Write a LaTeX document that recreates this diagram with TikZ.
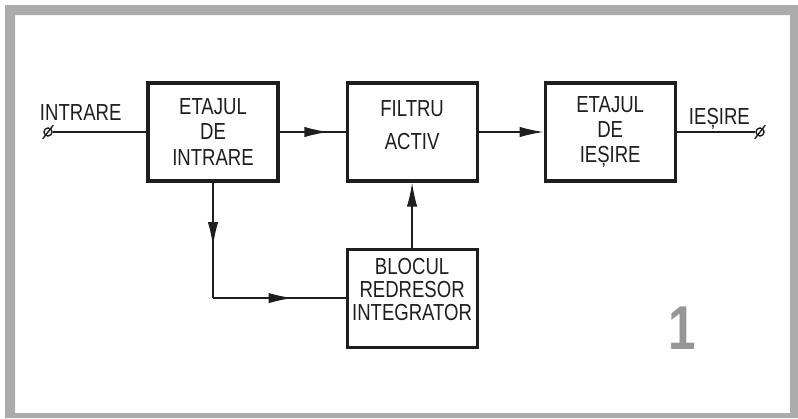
\documentclass[tikz,border=0pt]{standalone}
\usepackage{fontspec}
\setmainfont{Liberation Sans}[FakeStretch=0.8]
\usetikzlibrary{arrows.meta, positioning, decorations.markings}
\definecolor{inkblack}{RGB}{30, 30, 30}
\definecolor{framegray}{RGB}{172, 172, 172}
\definecolor{numbergray}{RGB}{150, 150, 150}
\tikzset{
  >=Latex,
  blockbox/.style={draw=inkblack, line width=2.2pt, minimum width=3.25cm, minimum height=2.45cm, align=center, inner sep=1pt, font=\fontsize{16.5}{18}\selectfont, text=inkblack},
  signal/.style={draw=inkblack, line width=1pt},
  signal_end/.style={signal, -{Latex[length=6mm, width=2.6mm]}},
  signal_mid/.style={signal, postaction={decorate}, decoration={markings, mark=at position #1 with {\arrow{Latex[length=6mm, width=2.6mm]}}}},
  terminal/.style={circle, draw=inkblack, line width=1pt, minimum size=2mm, inner sep=0pt},
  label_text/.style={font=\fontsize{16.5}{18}\selectfont, text=inkblack}
}
\begin{document}
\begin{tikzpicture}
    \useasboundingbox (0,0) rectangle (19.95,-10.45);
    \fill[framegray, even odd rule] (0.125,-0.125) rectangle (19.95,-10.45) (0.375,-0.375) rectangle (19.75,-10.325);
    \node (etin) [blockbox] at (5.325,-3.3) {ETAJUL\\DE\\INTRARE};
    \node (filtru) [blockbox, right=1.65cm of etin] {FILTRU\\[6pt]ACTIV\\[-8pt]};
    \node (etout) [blockbox, right=1.625cm of filtru] {ETAJUL\\DE\\IEȘIRE};
    \node (bloc) [blockbox, below=1.625cm of filtru, font=\fontsize{16.5}{16.5}\selectfont] {BLOCUL\\REDRESOR\\INTEGRATOR\\[-4pt]};
    \node (intr) [terminal] at (1.2,-3.3) {};
    \node (iesire) [terminal] at (19.0,-3.3) {};
    \draw[signal] ([shift={(-0.13,-0.17)}]intr.center) -- ([shift={(0.13,0.17)}]intr.center);
    \draw[signal] ([shift={(-0.13,-0.17)}]iesire.center) -- ([shift={(0.13,0.17)}]iesire.center);
    \node (intrlbl) [label_text, anchor=base west] at (0.875,-3.0) {INTRARE};
    \node (iesirelbl) [label_text, anchor=base west] at (17.1,-3.12) {IEȘIRE};
    \coordinate (bend) at (etin.south |- bloc.west);
    \draw[signal] (intr.east) -- (etin.west);
    \draw[signal_mid=0.74] (etin.east) -- (filtru.west);
    \draw[signal_end] (filtru.east) -- (etout.west);
    \draw[signal] (etout.east) -- (iesire.west);
    \draw[signal_mid=0.55] (etin.south) -- (bend);
    \draw[signal_mid=0.6] (bend) -- (bloc.west);
    \draw[signal_end] (bloc.north) -- (filtru.south);
    \node (fignum) [font=\fontsize{44}{44}\bfseries\selectfont, text=numbergray] at (17.05,-8.2) {1};
\end{tikzpicture}
\end{document}
